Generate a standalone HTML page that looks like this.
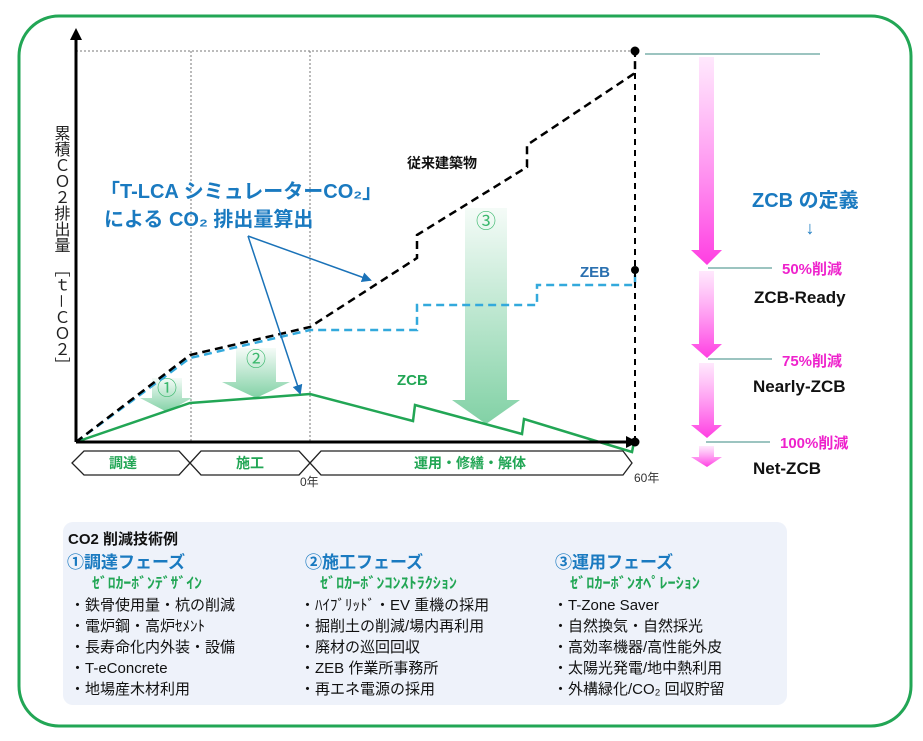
<!DOCTYPE html>
<html><head><meta charset="utf-8"><style>
body{margin:0;background:#fff;}
svg text{font-family:"Liberation Sans","Noto Sans CJK JP",sans-serif;}
</style></head><body>
<svg width="923" height="736" viewBox="0 0 923 736" xmlns="http://www.w3.org/2000/svg">
<defs>
<linearGradient id="gg" x1="0" y1="0" x2="0" y2="1"><stop offset="0" stop-color="#2fb36a" stop-opacity="0.05"/><stop offset="1" stop-color="#2fb36a" stop-opacity="0.6"/></linearGradient>
<linearGradient id="pg" x1="0" y1="0" x2="0" y2="1"><stop offset="0" stop-color="#ff66ee" stop-opacity="0.15"/><stop offset="1" stop-color="#ff33e0" stop-opacity="0.95"/></linearGradient>
<marker id="ba" markerWidth="10" markerHeight="10" refX="8" refY="5" orient="auto" markerUnits="userSpaceOnUse"><path d="M0,0 L10,5 L0,10z" fill="#1a72b8"/></marker>
</defs>
<rect x="19" y="16" width="892" height="710" rx="40" fill="none" stroke="#22a655" stroke-width="3"/>
<g stroke="#777" stroke-width="1" stroke-dasharray="2,2" fill="none">
<line x1="76" y1="51" x2="635" y2="51"/>
<line x1="191" y1="51" x2="191" y2="442"/>
<line x1="310" y1="51" x2="310" y2="442"/>
</g>
<path d="M152,378 H182 V398 H192 L167,412 L140,398 H152Z" fill="url(#gg)"/>
<path d="M236,348 H276 V382 H290 L256,398 L222,382 H236Z" fill="url(#gg)"/>
<path d="M465,208 H507 V400 H520 L486,424 L452,400 H465Z" fill="url(#gg)"/>
<text x="167" y="395" font-size="20" fill="#3cb86e" text-anchor="middle">①</text>
<text x="256" y="366" font-size="20" fill="#3cb86e" text-anchor="middle">②</text>
<text x="486" y="228" font-size="20" fill="#3cb86e" text-anchor="middle">③</text>
<polyline points="76,442 190,403 310,394 413,421 415,405 522,434 524,419 632,452 634,442" fill="none" stroke="#22a655" stroke-width="2.5"/>
<polyline points="76,442 190,358 310,330 417,330 417,305 537,305 537,285 635,285 635,270" fill="none" stroke="#33a9dc" stroke-width="2.5" stroke-dasharray="8,5"/>
<polyline points="76,442 190,355 310,327 417,258 417,235 527,167 527,145 635,73 635,52" fill="none" stroke="#000" stroke-width="2.5" stroke-dasharray="8,5"/>
<line x1="635" y1="51" x2="635" y2="442" stroke="#000" stroke-width="2" stroke-dasharray="6,5"/>
<circle cx="635" cy="51" r="4.5" fill="#000"/>
<circle cx="635" cy="270" r="4" fill="#000"/>
<circle cx="635" cy="442" r="4.5" fill="#000"/>
<line x1="76" y1="442" x2="76" y2="38" stroke="#000" stroke-width="3"/>
<path d="M70,40 L76,28 L82,40Z" fill="#000"/>
<line x1="76" y1="442" x2="628" y2="442" stroke="#000" stroke-width="3"/>
<path d="M626,436 L638,442 L626,448Z" fill="#000"/>
<line x1="248" y1="236" x2="370" y2="280" stroke="#1a72b8" stroke-width="1.5" marker-end="url(#ba)"/>
<line x1="248" y1="236" x2="300" y2="393" stroke="#1a72b8" stroke-width="1.5" marker-end="url(#ba)"/>
<text x="100" y="198" font-size="20" font-weight="bold" fill="#1a7ac0">「T-LCA シミュレーターCO₂」</text>
<text x="104" y="226" font-size="20" font-weight="bold" fill="#1a7ac0">による CO₂ 排出量算出</text>
<text x="407" y="168" font-size="14" font-weight="bold" fill="#111">従来建築物</text>
<text x="580" y="277" font-size="15" font-weight="bold" fill="#2a70b0">ZEB</text>
<text x="397" y="385" font-size="15" font-weight="bold" fill="#22a655">ZCB</text>
<text x="60" y="125" font-size="16" fill="#222" writing-mode="tb">累積ＣＯ２排出量　［ｔ－ＣＯ２］</text>
<g fill="#fff" stroke="#222" stroke-width="1.3">
<path d="M72,463 L84,451 H179 L190,463 L179,475 H84Z"/>
<path d="M190,463 L201,451 H299 L310,463 L299,475 H201Z"/>
<path d="M310,463 L321,451 H623 L632,463 L623,475 H321Z"/>
</g>
<g font-size="14" font-weight="bold" fill="#22a655" text-anchor="middle">
<text x="123" y="468">調達</text><text x="250" y="468">施工</text><text x="470" y="468">運用・修繕・解体</text>
</g>
<text x="300" y="486" font-size="12" fill="#333">0年</text>
<text x="634" y="482" font-size="12" fill="#333">60年</text>
<g stroke="#3a8a80" stroke-width="1">
<line x1="645" y1="54" x2="820" y2="54"/>
<line x1="708" y1="268" x2="772" y2="268"/>
<line x1="708" y1="359" x2="772" y2="359"/>
<line x1="706" y1="442" x2="770" y2="442"/>
</g>
<path d="M699,57 H714 V250 H722 L707,265 L691,250 H699Z" fill="url(#pg)"/>
<path d="M699,271 H714 V344 H722 L707,358 L691,344 H699Z" fill="url(#pg)"/>
<path d="M699,363 H714 V425 H722 L707,438 L691,425 H699Z" fill="url(#pg)"/>
<path d="M699,446 H714 V457 H722 L707,467 L691,457 H699Z" fill="url(#pg)"/>
<text x="752" y="207" font-size="20" font-weight="bold" fill="#1a7ac0">ZCB の定義</text>
<text x="810" y="234" font-size="18" fill="#1a7ac0" text-anchor="middle">↓</text>
<g font-size="15" font-weight="bold" fill="#ee22cc">
<text x="782" y="274">50%削減</text><text x="782" y="366">75%削減</text><text x="780" y="448">100%削減</text>
</g>
<g font-size="17" font-weight="bold" fill="#111">
<text x="754" y="303">ZCB-Ready</text><text x="753" y="392">Nearly-ZCB</text><text x="753" y="474">Net-ZCB</text>
</g>
<rect x="63" y="522" width="724" height="183" rx="10" fill="#eef2fa"/>
<text x="68" y="544" font-size="15" font-weight="bold" fill="#111">CO2 削減技術例</text>
<g font-size="17" font-weight="bold" fill="#1a7ac0">
<text x="67" y="568">①調達フェーズ</text><text x="305" y="568">②施工フェーズ</text><text x="555" y="568">③運用フェーズ</text>
</g>
<g font-size="15" font-weight="bold" fill="#22a655">
<text x="92" y="588" textLength="110" lengthAdjust="spacingAndGlyphs">ｾﾞﾛｶｰﾎﾞﾝﾃﾞｻﾞｲﾝ</text><text x="320" y="588" textLength="137" lengthAdjust="spacingAndGlyphs">ｾﾞﾛｶｰﾎﾞﾝｺﾝｽﾄﾗｸｼｮﾝ</text><text x="570" y="588" textLength="130" lengthAdjust="spacingAndGlyphs">ｾﾞﾛｶｰﾎﾞﾝｵﾍﾟﾚｰｼｮﾝ</text>
</g>
<g font-size="15" fill="#111">
<text x="70" y="610">・鉄骨使用量・杭の削減</text>
<text x="70" y="631">・電炉鋼・高炉ｾﾒﾝﾄ</text>
<text x="70" y="652">・長寿命化内外装・設備</text>
<text x="70" y="673">・T-eConcrete</text>
<text x="70" y="694">・地場産木材利用</text>
<text x="300" y="610">・ﾊｲﾌﾞﾘｯﾄﾞ・EV 重機の採用</text>
<text x="300" y="631">・掘削土の削減/場内再利用</text>
<text x="300" y="652">・廃材の巡回回収</text>
<text x="300" y="673">・ZEB 作業所事務所</text>
<text x="300" y="694">・再エネ電源の採用</text>
<text x="553" y="610">・T-Zone Saver</text>
<text x="553" y="631">・自然換気・自然採光</text>
<text x="553" y="652">・高効率機器/高性能外皮</text>
<text x="553" y="673">・太陽光発電/地中熱利用</text>
<text x="553" y="694">・外構緑化/CO₂ 回収貯留</text>
</g>
</svg>
</body></html>
